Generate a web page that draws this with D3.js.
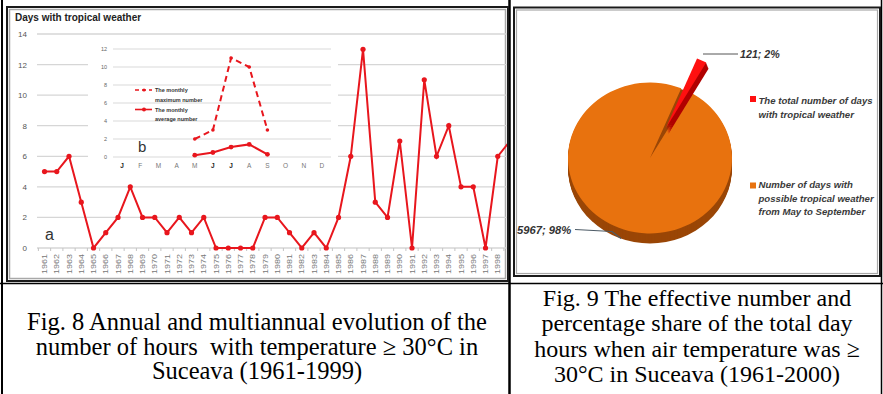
<!DOCTYPE html>
<html><head><meta charset="utf-8">
<script src="https://cdn.jsdelivr.net/npm/d3@7"></script>
<style>body{margin:0;background:#fff}svg{display:block}.cap{white-space:pre}</style>
</head><body>
<svg id="c" width="883" height="394"></svg>
<script>
// ---------- DATA ----------
const years = ["1961","1962","1963","1964","1965","1966","1967","1968","1969","1970","1971","1972","1973","1974","1975","1976","1977","1978","1979","1980","1981","1982","1983","1984","1985","1986","1987","1988","1989","1990","1991","1992","1993","1994","1995","1996","1997","1998","1999"];
const tropicalDays = [5,5,6,3,0,1,2,4,2,2,1,2,1,2,0,0,0,0,2,2,1,0,1,0,2,6,13,3,2,7,0,11,6,8,4,4,0,6,7];
const mainTicks = [0,2,4,6,8,10,12,14];

const months = ["J","F","M","A","M","J","J","A","S","O","N","D"];
const monthlyMax = [null,null,null,null,2,3,11,10,3,null,null,null];
const monthlyAvg = [null,null,null,null,0.2,0.5,1.1,1.4,0.3,null,null,null];
const insetTicks = [0,2,4,6,8,10,12];

const pieLabels = ["The total number of days with tropical weather","Number of days with possible tropical weather from May to September"];
const pieValues = [121, 5967];
const pieValueLabels = ["121; 2%", "5967; 98%"];

const caption8 = ["Fig. 8 Annual and multiannual evolution of the","number of hours  with temperature \u2265 30\u00B0C in","Suceava (1961-1999)"];
const caption9 = ["Fig. 9 The effective number and","percentage share of the total day","hours when air temperature was \u2265","30\u00B0C in Suceava (1961-2000)"];

// ---------- SETUP ----------
const svg = d3.select("#c");
const RED = "#e8161d";
const sans = "'Liberation Sans', Arial, sans-serif";
const serif = "'Liberation Serif', 'Times New Roman', serif";

// table lines
const table = svg.append("g").attr("stroke","#000");
table.append("line").attr("x1",2).attr("x2",2).attr("y1",0).attr("y2",394).attr("stroke-width",2);
table.append("line").attr("x1",509.5).attr("x2",509.5).attr("y1",0).attr("y2",394).attr("stroke-width",2.5);
table.append("line").attr("x1",881.5).attr("x2",881.5).attr("y1",0).attr("y2",394).attr("stroke-width",1.5);
table.append("line").attr("x1",0).attr("x2",883).attr("y1",283.5).attr("y2",283.5).attr("stroke-width",1.5);

// ---------- LEFT PANEL ----------
const L = svg.append("g");
L.append("rect").attr("x",7).attr("y",7).attr("width",501).attr("height",274)
  .attr("fill","#fff").attr("stroke","#1a1a1a").attr("stroke-width",2);
L.append("rect").attr("x",9.5).attr("y",9.5).attr("width",496).attr("height",269)
  .attr("fill","none").attr("stroke","#a8a8a8").attr("stroke-width",1.5);

svg.append("defs").append("clipPath").attr("id","clipL")
  .append("rect").attr("x",11).attr("y",11).attr("width",496).attr("height",268);

const main = L.append("g").attr("clip-path","url(#clipL)");

L.append("text").attr("x",15).attr("y",21).attr("font-family",sans).attr("font-weight","bold")
  .attr("font-size",10).attr("fill","#222").text("Days with tropical weather");

const x = d3.scalePoint().domain(years).range([38.4 + 6.125, 38.4 + 39*12.25 - 6.125]);
const y = d3.scaleLinear().domain([0,14]).range([248,34]);

// gridlines
main.append("g").selectAll("line").data(mainTicks).join("line")
  .attr("x1",37).attr("x2",508).attr("y1",d=>y(d)).attr("y2",d=>y(d))
  .attr("stroke","#d6d6d6").attr("stroke-width",1.3);
// y labels
L.append("g").selectAll("text").data(mainTicks).join("text")
  .attr("x",27).attr("y",d=>y(d)+3).attr("text-anchor","end")
  .attr("font-family",sans).attr("font-size",8).attr("fill","#555").text(d=>d);
// x ticks
main.append("g").selectAll("line").data(years).join("line")
  .attr("x1",d=>x(d)-6.125).attr("x2",d=>x(d)-6.125).attr("y1",248).attr("y2",251)
  .attr("stroke","#c4c4c4").attr("stroke-width",1);
// x labels
main.append("g").selectAll("text").data(years).join("text")
  .attr("transform",d=>`translate(${x(d)+2.6},254) rotate(-90)`)
  .attr("text-anchor","end").attr("font-family",sans).attr("font-size",7.2)
  .attr("textLength",20).attr("lengthAdjust","spacingAndGlyphs")
  .attr("fill","#777").text(d=>d);

// main line
const line = d3.line().x((d,i)=>x(years[i])).y(d=>y(d));
main.append("path").datum(tropicalDays).attr("d",line).attr("fill","none")
  .attr("stroke",RED).attr("stroke-width",2);
main.append("g").selectAll("circle").data(tropicalDays).join("circle")
  .attr("cx",(d,i)=>x(years[i])).attr("cy",d=>y(d)).attr("r",2.6).attr("fill",RED);

L.append("text").attr("x",45).attr("y",240).attr("font-family",sans).attr("font-size",16)
  .attr("fill","#333").text("a");

// ---------- INSET ----------
const I = main.append("g");
I.append("rect").attr("x",88).attr("y",38).attr("width",250).attr("height",137).attr("fill","#fff");
const mi = months.map((m,i)=>i);
const xi = d3.scalePoint().domain(mi).range([113,331]).padding(0.5);
const yi = d3.scaleLinear().domain([0,12]).range([157,49]);
I.append("g").selectAll("line").data(insetTicks).join("line")
  .attr("x1",113).attr("x2",331).attr("y1",d=>yi(d)).attr("y2",d=>yi(d))
  .attr("stroke","#d9d9d9").attr("stroke-width",1.1);
I.append("g").selectAll("text").data(insetTicks).join("text")
  .attr("x",107).attr("y",d=>yi(d)+2).attr("text-anchor","end")
  .attr("font-family",sans).attr("font-size",5.5).attr("fill","#666").text(d=>d);
I.append("g").selectAll("text").data(mi).join("text")
  .attr("x",d=>xi(d)).attr("y",168).attr("text-anchor","middle")
  .attr("font-family",sans).attr("font-size",6.5)
  .attr("font-weight",(d,i)=>months[i]==="J"?"bold":"normal")
  .attr("fill",(d,i)=>months[i]==="J"?"#222":"#777").text((d,i)=>months[i]);

const lineI = d3.line().defined(d=>d!=null).x((d,i)=>xi(i)).y(d=>yi(d));
I.append("path").datum(monthlyMax).attr("d",lineI).attr("fill","none")
  .attr("stroke",RED).attr("stroke-width",2).attr("stroke-dasharray","6,4");
I.append("g").selectAll("circle").data(monthlyMax.map((v,i)=>[i,v]).filter(d=>d[1]!=null)).join("circle")
  .attr("cx",d=>xi(d[0])).attr("cy",d=>yi(d[1])).attr("r",1.8).attr("fill",RED);
I.append("path").datum(monthlyAvg).attr("d",lineI).attr("fill","none")
  .attr("stroke",RED).attr("stroke-width",2);
I.append("g").selectAll("circle").data(monthlyAvg.map((v,i)=>[i,v]).filter(d=>d[1]!=null)).join("circle")
  .attr("cx",d=>xi(d[0])).attr("cy",d=>yi(d[1])).attr("r",2.4).attr("fill",RED);

// inset legend
I.append("line").attr("x1",135).attr("x2",152).attr("y1",90).attr("y2",90)
  .attr("stroke",RED).attr("stroke-width",1.6).attr("stroke-dasharray","4,3");
I.append("circle").attr("cx",144).attr("cy",90).attr("r",1.6).attr("fill",RED);
I.append("line").attr("x1",135).attr("x2",152).attr("y1",109.5).attr("y2",109.5)
  .attr("stroke",RED).attr("stroke-width",1.6);
I.append("circle").attr("cx",144).attr("cy",109.5).attr("r",2).attr("fill",RED);
const legI = [["The monthly",92],["maximum number",101.5],["The monthly",111.5],["average number",120.5]];
I.append("g").selectAll("text").data(legI).join("text")
  .attr("x",155).attr("y",d=>d[1]).attr("font-family",sans).attr("font-weight","bold")
  .attr("font-size",5.5).attr("fill","#333").text(d=>d[0]);
I.append("text").attr("x",138).attr("y",152).attr("font-family",sans).attr("font-size",15)
  .attr("fill","#333").text("b");

// ---------- RIGHT PANEL ----------
const R = svg.append("g");
R.append("rect").attr("x",514).attr("y",7.5).attr("width",366).attr("height",268.5)
  .attr("fill","#fff").attr("stroke","#1a1a1a").attr("stroke-width",2);
R.append("rect").attr("x",516.5).attr("y",10).attr("width",361).attr("height",263.5)
  .attr("fill","none").attr("stroke","#a8a8a8").attr("stroke-width",1.2);

const cx = 650, cy = 158, rad = 82, sy = 0.92, depth = 10;
const midDeg = 26;
const spanDeg = pieValues[0]/d3.sum(pieValues)*360;
const a0 = (midDeg - spanDeg/2)*Math.PI/180;
const pie = d3.pie().sort(null).startAngle(a0).endAngle(a0 + 2*Math.PI);
const arcs = pie(pieValues);
const arc = d3.arc().innerRadius(0).outerRadius(rad);
const topCols = ["#ff1010","#e8720e"], sideCols = ["#b00000","#9a4606"];

// orange slice: side then top
const og = R.append("g");
for (let k = depth; k >= 1; k--) {
  og.append("ellipse").attr("cx",cx).attr("cy",cy+k).attr("rx",rad).attr("ry",rad*sy).attr("fill",sideCols[1]);
}
og.append("path").attr("d",arc(arcs[1]))
  .attr("transform",`translate(${cx},${cy}) scale(1,${sy})`).attr("fill",topCols[1]);

// red exploded slice
const mid = (arcs[0].startAngle + arcs[0].endAngle)/2, ex = 36;
const rx0 = cx + Math.sin(mid)*ex, ry0 = cy - Math.cos(mid)*ex*sy;
const rg = R.append("g");
for (let k = 6; k >= 1; k--) {
  rg.append("path").attr("d",arc(arcs[0]))
    .attr("transform",`translate(${rx0+k*0.4},${ry0+k}) scale(1,${sy})`).attr("fill",sideCols[0]);
}
rg.append("path").attr("d",arc(arcs[0]))
  .attr("transform",`translate(${rx0},${ry0}) scale(1,${sy})`).attr("fill",topCols[0]);

// value labels and leaders
R.append("polyline").attr("points","703,54 738,54").attr("fill","none").attr("stroke","#555").attr("stroke-width",1);
R.append("text").attr("x",740).attr("y",57.5).attr("font-family",sans).attr("font-weight","bold")
  .attr("font-style","italic").attr("font-size",10.7).attr("fill","#333").text(pieValueLabels[0]);
R.append("polyline").attr("points","575,229.5 612,231.5 621,238.5").attr("fill","none").attr("stroke","#4d5b66").attr("stroke-width",1.2);
R.append("text").attr("x",517).attr("y",234).attr("font-family",sans).attr("font-weight","bold")
  .attr("font-style","italic").attr("font-size",11.2).attr("fill","#333").text(pieValueLabels[1]);

// legend
const legLines = [["The total number of days","with tropical weather"],["Number of days with","possible tropical weather","from May to September"]];
const legY = [104, 188];
const legSq = [[750,96],[750,182.5]];
legLines.forEach((lines,i)=>{
  R.append("rect").attr("x",legSq[i][0]).attr("y",legSq[i][1]).attr("width",6).attr("height",6).attr("fill",topCols[i]);
  R.append("g").selectAll("text").data(lines).join("text")
    .attr("x",758.5).attr("y",(d,j)=>legY[i]+j*13.7).attr("font-family",sans).attr("font-weight","bold")
    .attr("font-style","italic").attr("font-size",9.6).attr("fill","#3a3a3a").text(d=>d);
});

// ---------- CAPTIONS ----------
svg.append("g").selectAll("text").data(caption8).join("text").attr("class","cap")
  .attr("x",257).attr("y",(d,i)=>330+i*24.5).attr("text-anchor","middle")
  .attr("font-family",serif).attr("font-size",24.5).attr("fill","#000").text(d=>d);
svg.append("g").selectAll("text").data(caption9).join("text").attr("class","cap")
  .attr("x",697).attr("y",(d,i)=>306+i*25.3).attr("text-anchor","middle")
  .attr("font-family",serif).attr("font-size",24).attr("fill","#000").text(d=>d);
</script>
</body></html>
